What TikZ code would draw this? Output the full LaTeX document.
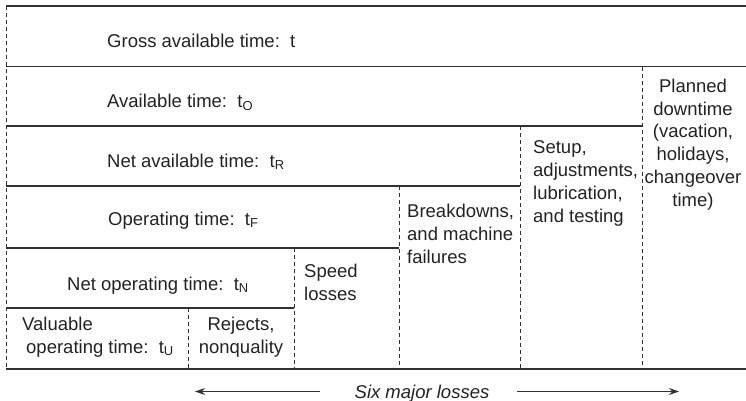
\documentclass[tikz,border=0pt]{standalone}
\usepackage{fontspec}
\setmainfont{Liberation Sans}
\usetikzlibrary{arrows.meta}
\definecolor{rule}{RGB}{50,50,50}
\definecolor{ink}{RGB}{35,35,35}
\tikzset{
  >={Stealth[length=10pt,width=7pt]},
  band/.style={draw=rule,line width=1.2pt},
  cut/.style={draw=rule,line width=0.9pt,dash pattern=on 4pt off 3pt},
  lbl/.style={inner sep=0pt,text=ink,font=\fontsize{18.5}{22.7}\selectfont,align=#1},
  lbl/.default=left,
  loss/.style={->,draw=rule,line width=1pt},
}

\begin{document}
\begin{tikzpicture}[x=1pt,y=-1pt]
  \useasboundingbox (0,0) rectangle (746,401);
  % horizontal rules
  \draw[band] (6,6) -- (746,6);
  \draw[band] (6,66.7) -- (746,66.7);
  \foreach \y/\r in {126/642,186/520,248/399,308/294}
    \draw[band] (6,\y) -- (\r,\y);
  \draw[band] (6,369) -- (746,369);
  % dashed cuts
  \draw[cut] (6,6) -- (6,369);
  \foreach \x/\t in {642/66.7,520/126,399/186,294/248,188/308}
    \draw[cut] (\x,\t) -- (\x,369);

  % time levels (base = last line)
  \node[lbl,anchor=base west] (gross) at (107,48) {Gross available time:\ \ t};
  \node[lbl,anchor=base west] (avail) at (107,107) {Available time:\ \ t\textsubscript{O}};
  \node[lbl,anchor=base west] (netavail) at (107,167) {Net available time:\ \ t\textsubscript{R}};
  \node[lbl,anchor=base west] (oper) at (108,225) {Operating time:\ \ t\textsubscript{F}};
  \node[lbl,anchor=base west] (netoper) at (67,290) {Net operating time:\ \ t\textsubscript{N}};
  \node[lbl,anchor=base west] (valuable) at (22,353) {Valuable\\\hspace*{4pt}operating time:\ \ t\textsubscript{U}};

  % losses
  \node[lbl=center,anchor=base] (rejects) at (241,353) {Rejects,\\nonquality};
  \node[lbl,anchor=base west] (speed) at (304,300) {Speed\\losses};
  \node[lbl,anchor=base west] (breakdown) at (407,263) {Breakdowns,\\and machine\\failures};
  \node[lbl,anchor=base west] (setup) at (533,222) {Setup,\\adjustments,\\lubrication,\\and testing};
  \node[lbl=center,anchor=base] (planned) at (693,206) {Planned\\downtime\\(vacation,\\holidays,\\changeover\\time)};

  % six major losses
  \node[lbl,anchor=base,font=\fontsize{18.5}{22.7}\selectfont\itshape] (six) at (422,398) {Six major losses};
  \coordinate (sixLtail) at (320,391.5);
  \coordinate (sixLtip) at (195,391.5);
  \coordinate (sixRtail) at (517,391.5);
  \coordinate (sixRtip) at (679,391.5);
  \draw[loss] (sixLtail) -- (sixLtip);
  \draw[loss] (sixRtail) -- (sixRtip);
\end{tikzpicture}
\end{document}
